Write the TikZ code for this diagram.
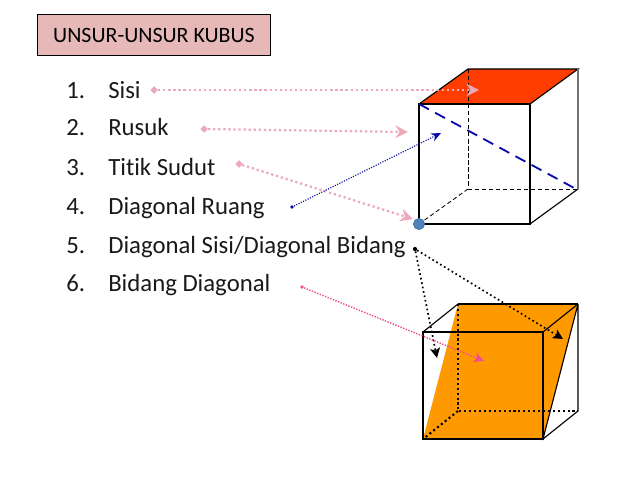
\documentclass[tikz,border=0pt]{standalone}
\usepackage{fontspec}
\setmainfont[Ligatures=NoCommon]{Carlito}
\usetikzlibrary{positioning,arrows.meta,shapes.geometric,shadows}
\definecolor{boxpink}{HTML}{E6B9B8}
\definecolor{arrowpink}{HTML}{EBA9BA}
\definecolor{hotpink}{HTML}{F0508A}
\definecolor{topred}{HTML}{FF3D00}
\definecolor{planeorange}{HTML}{FF9900}
\definecolor{darkblue}{HTML}{0A0AA8}
\definecolor{dotblue}{HTML}{4F81BD}
\tikzset{
    listtext/.style={anchor=base west, inner sep=0pt, font=\fontsize{17.6}{20}\selectfont, text=black!90},
    titlebox/.style={draw=black, fill=boxpink, line width=0.7pt, minimum width=165.5pt, minimum height=28.5pt,
        inner sep=0pt, font=\fontsize{15.6}{18}\selectfont, drop shadow={shadow xshift=0.5pt, shadow yshift=-0.7pt, opacity=0.25}},
    pinkstart/.style={diamond, fill=arrowpink, inner sep=0pt, minimum size=5.5pt},
    pinkline/.style={arrowpink, line width=1.6pt, dotted, -{Stealth[inset=3pt,length=9pt,width=9pt,fill=arrowpink]}},
    blackline/.style={black, line width=1.2pt, dotted, -{Stealth[inset=1.5pt,length=7pt,width=7pt]}},
    blueline/.style={darkblue, line width=0.8pt, densely dotted, -{Stealth[length=7pt,width=6pt]}},
    hotline/.style={hotpink, line width=1pt, densely dotted, -{Stealth[inset=1.5pt,length=7pt,width=7pt]}},
    edgeline/.style={black, line width=0.8pt},
    backline/.style={black, line width=0.6pt, densely dashed},
    dotline/.style={black, line width=1.5pt, dotted},
}
\begin{document}
\begin{tikzpicture}[x=0.025cm,y=-0.025cm]
    \useasboundingbox (0,0) rectangle (638,479);
    % title and list
    \node[titlebox] (title) at (154,35) {UNSUR-UNSUR KUBUS};
    \node[listtext] (n1) at (66,99) {1.};
    \node[listtext] (n2) at (66,136) {2.};
    \node[listtext] (n3) at (66,175) {3.};
    \node[listtext] (n4) at (66,214) {4.};
    \node[listtext] (n5) at (66,253) {5.};
    \node[listtext] (n6) at (66,291) {6.};
    \node[listtext] (sisi) at (108,99) {Sisi};
    \node[listtext] (rusuk) at (108,136) {Rusuk};
    \node[listtext] (titik) at (108,175) {Titik Sudut};
    \node[listtext] (ruang) at (108,214) {Diagonal Ruang};
    \node[listtext] (bidang) at (108,253) {Diagonal Sisi/Diagonal Bidang};
    \node[listtext] (diagbidang) at (108,291) {Bidang Diagonal};
    % upper cube
    \coordinate (a1) at (419,104);
    \coordinate (b1) at (530,104);
    \coordinate (c1) at (530,224);
    \coordinate (d1) at (419,224);
    \coordinate (e1) at (468,69);
    \coordinate (f1) at (578,69);
    \coordinate (g1) at (578,189);
    \coordinate (h1) at (468,189);
    \fill[topred] (a1) -- (e1) -- (f1) -- (b1) -- cycle;
    \draw[backline] (e1) -- (h1) -- (g1);
    \draw[backline] (h1) -- (d1);
    \draw[edgeline] (a1) -- (b1) -- (c1) -- (d1) -- cycle;
    \draw[edgeline] (a1) -- (e1) -- (f1) -- (b1);
    \draw[edgeline] (c1) -- (g1);
    \draw[black!55, line width=1pt] (f1) -- (g1);
    \draw[darkblue, line width=1.3pt, dash pattern=on 8pt off 5pt] (a1) -- (576,189);
    % lower cube
    \coordinate (a2) at (423,332);
    \coordinate (b2) at (543,332);
    \coordinate (c2) at (543,439);
    \coordinate (d2) at (423,439);
    \coordinate (e2) at (458,304);
    \coordinate (f2) at (578,304);
    \coordinate (g2) at (578,411);
    \coordinate (h2) at (458,411);
    \fill[planeorange] (d2) -- (e2) -- (f2) -- (c2) -- cycle;
    \draw[dotline] (e2) -- (h2) -- (g2);
    \draw[dotline] (h2) -- (d2);
    \draw[edgeline] (a2) -- (b2) -- (c2) -- (d2) -- cycle;
    \draw[edgeline] (a2) -- (e2);
    \draw[edgeline] (b2) -- (f2);
    \draw[edgeline, line width=1.3pt] (e2) -- (f2);
    \draw[edgeline] (f2) -- (g2) -- (c2) -- (f2);
    % arrows
    \node[pinkstart] (s1) at (154,90) {};
    \node[pinkstart] (s2) at (204,129) {};
    \node[pinkstart] (s3) at (239,164) {};
    \node[circle, fill=darkblue, inner sep=0pt, minimum size=2.8pt] (s4) at (292,207) {};
    \node[circle, fill=black, inner sep=0pt, minimum size=3pt] (s5) at (415,249) {};
    \node[circle, fill=hotpink, inner sep=0pt, minimum size=2.8pt] (s6) at (302,287) {};
    \node[circle, fill=dotblue, draw=dotblue!80!black, line width=0.4pt, inner sep=0pt, minimum size=8pt] (corner) at (d1) {};
    \coordinate (t1) at (479,90);
    \coordinate (t2) at (408,132);
    \coordinate (t3) at (413,219);
    \coordinate (t4) at (441,133);
    \coordinate (t5) at (437,358);
    \coordinate (t6) at (563,339);
    \coordinate (t7) at (484,361);
    \draw[pinkline] (s1) -- (t1);
    \draw[pinkline] (s2) -- (t2);
    \draw[pinkline] (s3) -- (t3);
    \draw[blueline] (s4) -- (t4);
    \draw[blackline] (s5) -- (t5);
    \draw[blackline] (s5) -- (t6);
    \draw[hotline] (s6) -- (t7);
\end{tikzpicture}
\end{document}
